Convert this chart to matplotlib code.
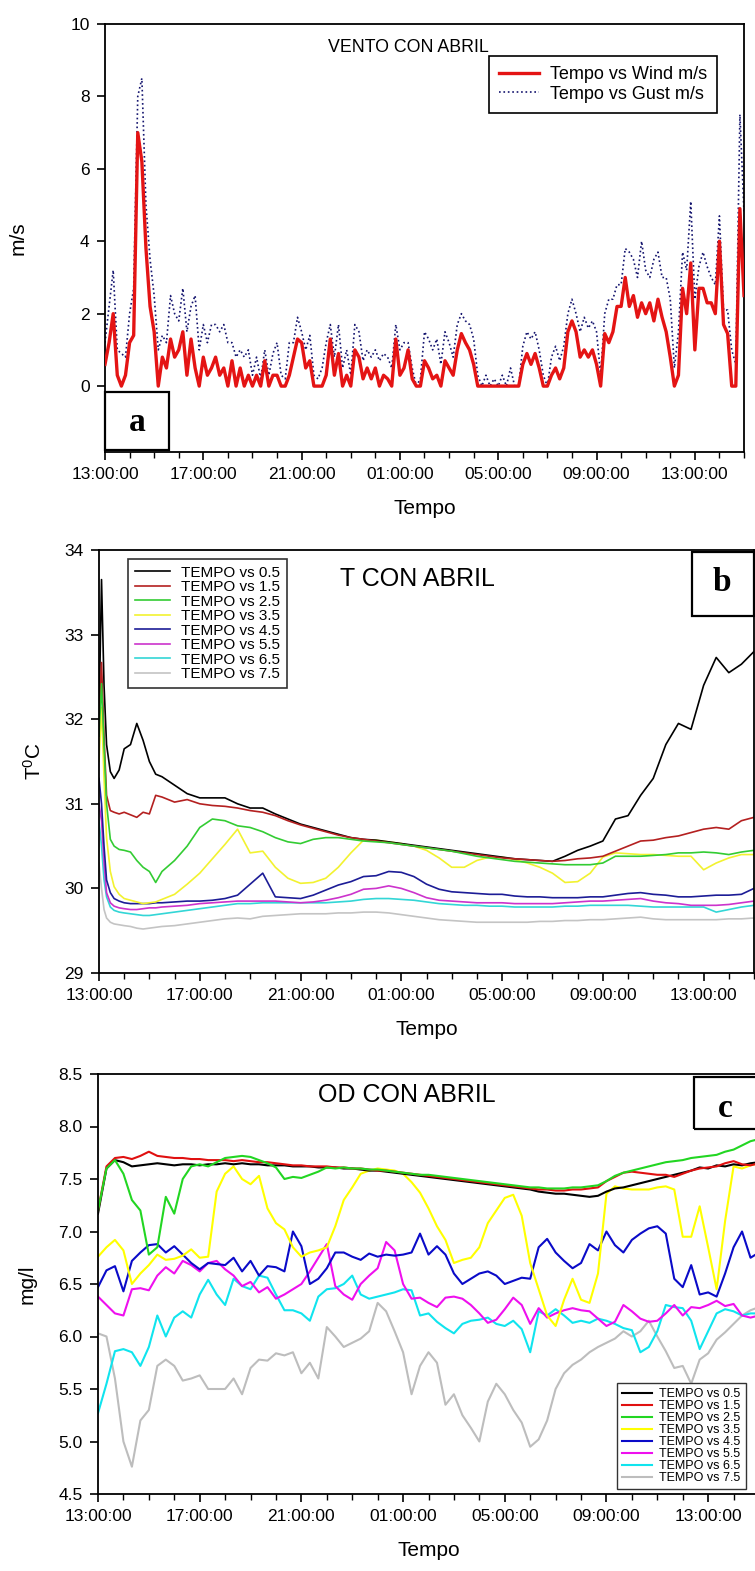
import numpy as np
import matplotlib
matplotlib.use('Agg')
import matplotlib.pyplot as plt
from matplotlib.patches import Rectangle
from matplotlib.ticker import FormatStrFormatter

plt.rcParams['font.family'] = ['Liberation Sans', 'DejaVu Sans']
plt.rcParams['mathtext.default'] = 'regular'

# hours counted from 13:00 of the first day
hour_ticks = [0, 4, 8, 12, 16, 20, 24]
hour_labels = ['13:00:00', '17:00:00', '21:00:00', '01:00:00',
               '05:00:00', '09:00:00', '13:00:00']
depth_labels = ['TEMPO vs 0.5', 'TEMPO vs 1.5', 'TEMPO vs 2.5', 'TEMPO vs 3.5',
                'TEMPO vs 4.5', 'TEMPO vs 5.5', 'TEMPO vs 6.5', 'TEMPO vs 7.5']

# ---- wind, one reading every 10 minutes (m/s)
wind = [0.6, 1.2, 2.0, 0.3, 0.0, 0.3, 1.2, 1.4, 7.0, 6.2, 3.8, 2.2,
        1.5, 0.0, 0.8, 0.5, 1.3, 0.8, 1.0, 1.5, 0.3, 1.3, 0.5, 0.0,
        0.8, 0.3, 0.5, 0.8, 0.3, 0.5, 0.0, 0.7, 0.0, 0.5, 0.0, 0.3,
        0.0, 0.3, 0.0, 0.7, 0.0, 0.3, 0.3, 0.0, 0.0, 0.3, 0.8, 1.3,
        1.2, 0.5, 0.7, 0.0, 0.0, 0.0, 0.3, 1.3, 0.3, 0.9, 0.0, 0.3,
        0.0, 1.0, 0.8, 0.2, 0.5, 0.2, 0.5, 0.0, 0.3, 0.2, 0.0, 1.3,
        0.3, 0.5, 1.0, 0.2, 0.0, 0.0, 0.7, 0.5, 0.2, 0.3, 0.0, 0.7,
        0.5, 0.3, 1.0, 1.45, 1.2, 1.0, 0.6, 0.0, 0.0, 0.0, 0.0, 0.0,
        0.0, 0.0, 0.0, 0.0, 0.0, 0.0, 0.6, 0.9, 0.6, 0.9, 0.5, 0.0,
        0.0, 0.3, 0.5, 0.2, 0.5, 1.5, 1.8, 1.5, 0.8, 1.0, 0.8, 1.0,
        0.6, 0.0, 1.45, 1.2, 1.5, 2.2, 2.2, 3.0, 2.2, 2.5, 1.9, 2.3,
        2.0, 2.3, 1.8, 2.4, 1.9, 1.5, 0.8, 0.0, 0.3, 2.7, 2.0, 3.4,
        1.0, 2.7, 2.7, 2.3, 2.3, 2.0, 4.0, 1.7, 1.45, 0.0, 0.0, 4.9,
        2.5]
gust = [1.2, 2.2, 3.2, 1.0, 0.9, 0.8, 2.0, 2.7, 8.0, 8.5, 5.0, 3.5,
        2.5, 1.0, 1.4, 1.2, 2.5, 2.0, 1.8, 2.7, 1.5, 2.2, 2.5, 1.0,
        1.7, 1.2, 1.7, 1.7, 1.5, 1.7, 1.2, 1.2, 0.8, 1.0, 0.8, 1.0,
        0.3, 0.8, 0.2, 1.0, 0.3, 0.9, 1.2, 0.3, 0.2, 1.2, 1.2, 1.9,
        1.5, 1.0, 1.4, 0.3, 0.2, 0.5, 1.2, 1.7, 0.8, 1.7, 0.5, 1.0,
        0.3, 1.7, 1.5, 0.7, 1.0, 0.8, 1.0, 0.7, 0.9, 0.8, 0.5, 1.7,
        1.0, 1.2, 1.2, 0.5, 0.0, 0.2, 1.5, 1.3, 1.0, 1.3, 0.6, 1.5,
        1.2, 0.8, 1.7, 2.0, 1.8, 1.7, 1.3, 0.3, 0.0, 0.3, 0.0, 0.2,
        0.0, 0.3, 0.0, 0.5, 0.0, 0.0, 1.1, 1.5, 1.3, 1.5, 1.0, 0.3,
        0.0, 0.8, 1.1, 0.7, 1.1, 2.0, 2.4, 2.0, 1.5, 1.9, 1.6, 1.8,
        1.5, 0.3, 2.0, 2.4, 2.4, 2.8, 2.8, 3.8, 3.7, 3.5, 3.0, 4.0,
        3.2, 3.0, 3.5, 3.7, 3.0, 3.0, 2.4, 0.5, 1.5, 3.7, 3.2, 5.1,
        2.4, 3.3, 3.7, 3.3, 3.0, 2.8, 4.7, 2.1, 2.1, 1.0, 0.6, 7.5,
        4.8]
t_wind = np.arange(len(wind)) / 6.0

# ---- water temperature by depth (deg C)
t_temp = [0, 0.1, 0.2, 0.3, 0.45, 0.6, 0.8, 1.0, 1.25, 1.5, 1.75, 2.0, 2.25, 2.5,
          3.0, 3.5, 4.0, 4.5, 5.0, 5.5, 6.0, 6.5, 7.0, 7.5, 8.0, 8.5, 9.0, 9.5,
          10.0, 10.5, 11.0, 11.5, 12.0, 12.5, 13.0, 13.5, 14.0, 14.5, 15.0, 15.5,
          16.0, 16.5, 17.0, 17.5, 18.0, 18.5, 19.0, 19.5, 20.0, 20.5, 21.0, 21.5,
          22.0, 22.5, 23.0, 23.5, 24.0, 24.5, 25.0, 25.5, 26.0]
temp_05 = [32.0, 33.65, 32.4, 31.7, 31.38, 31.3, 31.4, 31.65, 31.7, 31.95, 31.75, 31.5, 31.35, 31.32,
           31.22, 31.12, 31.07, 31.07, 31.07, 31.0, 30.95, 30.95,
           30.88, 30.82, 30.76, 30.72, 30.68, 30.64, 30.6, 30.58,
           30.57, 30.55, 30.53, 30.51, 30.49, 30.47, 30.45, 30.43,
           30.41, 30.39, 30.37, 30.35, 30.34, 30.33, 30.32, 30.38,
           30.45, 30.5, 30.56, 30.82, 30.86, 31.1, 31.3, 31.7,
           31.95, 31.88, 32.4, 32.73, 32.55, 32.65, 32.8]
temp_15 = [32.0, 32.67, 31.8, 31.1, 30.92, 30.9, 30.88, 30.9, 30.87, 30.84, 30.9, 30.88, 31.1, 31.08,
           31.02, 31.05, 31.0, 30.98, 30.97, 30.95, 30.92, 30.9,
           30.86, 30.8, 30.75, 30.71, 30.67, 30.63, 30.6, 30.58,
           30.56, 30.54, 30.52, 30.5, 30.48, 30.46, 30.44, 30.42,
           30.4, 30.38, 30.36, 30.35, 30.34, 30.33, 30.32, 30.33,
           30.35, 30.36, 30.38, 30.44, 30.5, 30.56, 30.57, 30.6,
           30.62, 30.66, 30.7, 30.72, 30.7, 30.8, 30.84]
temp_25 = [31.8, 32.42, 31.7, 31.0, 30.58, 30.5, 30.46, 30.45, 30.43, 30.33, 30.25, 30.2, 30.07, 30.2,
           30.33, 30.5, 30.72, 30.82, 30.8, 30.74, 30.72, 30.67,
           30.6, 30.55, 30.53, 30.58, 30.6, 30.6, 30.58, 30.56,
           30.55, 30.54, 30.52, 30.5, 30.48, 30.46, 30.44, 30.41,
           30.38, 30.36, 30.34, 30.32, 30.31, 30.3, 30.29, 30.28,
           30.28, 30.28, 30.3, 30.38, 30.38, 30.38, 30.39, 30.4,
           30.42, 30.42, 30.43, 30.42, 30.4, 30.43, 30.45]
temp_35 = [31.5, 32.14, 31.3, 30.6, 30.2, 30.02, 29.93, 29.88, 29.86, 29.84, 29.82, 29.83, 29.84, 29.87,
           29.93, 30.05, 30.18, 30.35, 30.52, 30.7, 30.42, 30.44,
           30.25, 30.12, 30.06, 30.07, 30.12, 30.25, 30.42, 30.57,
           30.57, 30.55, 30.53, 30.5, 30.45, 30.36, 30.25, 30.25,
           30.33, 30.37, 30.37, 30.34, 30.3, 30.25, 30.18, 30.07,
           30.08, 30.18, 30.37, 30.42, 30.41, 30.4, 30.4, 30.39,
           30.38, 30.38, 30.22, 30.3, 30.36, 30.4, 30.4]
temp_45 = [31.3, 31.0, 30.5, 30.1, 29.95, 29.88, 29.85, 29.83, 29.82, 29.82, 29.82, 29.82, 29.83, 29.83,
           29.84, 29.85, 29.85, 29.86, 29.88, 29.92, 30.05, 30.18,
           29.9, 29.89, 29.88, 29.92, 29.98, 30.04, 30.08, 30.14,
           30.15, 30.2, 30.19, 30.14, 30.05, 29.99, 29.96, 29.95,
           29.94, 29.93, 29.93, 29.91, 29.9, 29.9, 29.89, 29.89,
           29.89, 29.9, 29.9, 29.92, 29.94, 29.95, 29.93, 29.92,
           29.9, 29.9, 29.91, 29.92, 29.92, 29.93, 30.0]
temp_55 = [31.0, 30.8, 30.3, 29.95, 29.83, 29.79, 29.77, 29.76, 29.75, 29.75, 29.76, 29.77, 29.77, 29.78,
           29.79, 29.8, 29.82, 29.83, 29.84, 29.85, 29.85, 29.85,
           29.85, 29.84, 29.83, 29.84, 29.86, 29.89, 29.93, 29.99,
           30.0, 30.03, 30.0, 29.95, 29.89, 29.86, 29.85, 29.84,
           29.83, 29.83, 29.83, 29.82, 29.82, 29.82, 29.82, 29.83,
           29.84, 29.85, 29.85, 29.86, 29.87, 29.88, 29.85, 29.83,
           29.82, 29.8, 29.8, 29.8, 29.81, 29.83, 29.85]
temp_65 = [30.8, 30.5, 30.1, 29.9, 29.78, 29.74, 29.72, 29.71, 29.7, 29.69, 29.68, 29.68, 29.69, 29.7,
           29.72, 29.74, 29.76, 29.78, 29.8, 29.82, 29.82, 29.83,
           29.83, 29.83, 29.83, 29.83, 29.83, 29.84, 29.85, 29.87,
           29.88, 29.88, 29.87, 29.86, 29.84, 29.82, 29.81, 29.8,
           29.8, 29.79, 29.79, 29.78, 29.78, 29.78, 29.78, 29.79,
           29.79, 29.8, 29.8, 29.8, 29.8, 29.79, 29.78, 29.78,
           29.78, 29.78, 29.78, 29.72, 29.75, 29.78, 29.8]
temp_75 = [30.3, 30.0, 29.75, 29.65, 29.6, 29.58, 29.57, 29.56, 29.55, 29.53, 29.52, 29.53, 29.54, 29.55,
           29.56, 29.58, 29.6, 29.62, 29.64, 29.65, 29.64, 29.67,
           29.68, 29.69, 29.7, 29.7, 29.7, 29.71, 29.71, 29.72,
           29.72, 29.71, 29.69, 29.67, 29.65, 29.63, 29.62, 29.61,
           29.6, 29.6, 29.6, 29.6, 29.6, 29.61, 29.61, 29.62,
           29.62, 29.63, 29.63, 29.64, 29.65, 29.66, 29.64, 29.63,
           29.63, 29.63, 29.63, 29.63, 29.64, 29.64, 29.65]

# ---- dissolved oxygen by depth, one value every 20 minutes (mg/l)
do_05 = [7.17, 7.6, 7.68, 7.66, 7.62, 7.63, 7.64, 7.65, 7.64,
         7.63, 7.64, 7.64, 7.63, 7.64, 7.64, 7.65, 7.64, 7.65,
         7.64, 7.64, 7.63, 7.63, 7.63, 7.62, 7.62, 7.62, 7.61,
         7.61, 7.61, 7.6, 7.6, 7.59, 7.58, 7.58, 7.57, 7.56,
         7.55, 7.54, 7.53, 7.52, 7.51, 7.5, 7.49, 7.48, 7.47,
         7.46, 7.45, 7.44, 7.43, 7.42, 7.41, 7.4, 7.38, 7.37,
         7.36, 7.36, 7.35, 7.34, 7.33, 7.34, 7.38, 7.41, 7.42,
         7.44, 7.46, 7.48, 7.5, 7.52, 7.54, 7.56, 7.58, 7.61,
         7.6, 7.63, 7.62, 7.64, 7.63, 7.65, 7.66]
do_15 = [7.2, 7.62, 7.7, 7.71, 7.69, 7.72, 7.76, 7.72, 7.71,
         7.7, 7.7, 7.69, 7.69, 7.68, 7.68, 7.68, 7.67, 7.68,
         7.67, 7.66, 7.66, 7.65, 7.64, 7.63, 7.63, 7.62, 7.62,
         7.62, 7.61, 7.61, 7.6, 7.6, 7.59, 7.58, 7.58, 7.57,
         7.56, 7.55, 7.54, 7.53, 7.52, 7.51, 7.5, 7.49, 7.48,
         7.47, 7.46, 7.45, 7.44, 7.43, 7.42, 7.41, 7.4, 7.4,
         7.39, 7.39, 7.4, 7.4, 7.41, 7.42, 7.48, 7.52, 7.56,
         7.57, 7.56, 7.55, 7.54, 7.54, 7.52, 7.55, 7.58, 7.6,
         7.61, 7.62, 7.65, 7.67, 7.64, 7.63, 7.65]
do_25 = [7.2, 7.6, 7.68, 7.55, 7.3, 7.2, 6.78, 6.85, 7.33,
         7.17, 7.5, 7.62, 7.64, 7.62, 7.66, 7.7, 7.71, 7.72,
         7.71, 7.68, 7.65, 7.61, 7.5, 7.52, 7.51, 7.54, 7.57,
         7.61, 7.6, 7.61, 7.6, 7.6, 7.59, 7.59, 7.58, 7.57,
         7.56, 7.55, 7.54, 7.54, 7.53, 7.52, 7.51, 7.5, 7.49,
         7.48, 7.47, 7.46, 7.45, 7.44, 7.43, 7.42, 7.42, 7.41,
         7.41, 7.41, 7.42, 7.42, 7.43, 7.44, 7.48, 7.53, 7.56,
         7.58, 7.6, 7.62, 7.64, 7.66, 7.67, 7.68, 7.7, 7.71,
         7.72, 7.73, 7.76, 7.78, 7.82, 7.86, 7.88]
do_35 = [6.76, 6.85, 6.92, 6.82, 6.5, 6.6, 6.68, 6.78, 6.73,
         6.74, 6.77, 6.83, 6.75, 6.76, 7.38, 7.55, 7.62, 7.5,
         7.45, 7.53, 7.22, 7.08, 7.02, 6.85, 6.76, 6.8, 6.82,
         6.85, 7.05, 7.3, 7.42, 7.55, 7.58, 7.6, 7.59, 7.58,
         7.55, 7.47, 7.37, 7.22, 7.05, 6.92, 6.7, 6.73, 6.75,
         6.85, 7.08, 7.2, 7.32, 7.35, 7.15, 6.7, 6.45, 6.2,
         6.1, 6.35, 6.55, 6.35, 6.32, 6.6, 7.36, 7.43, 7.41,
         7.4, 7.4, 7.4, 7.42, 7.43, 7.4, 6.95, 6.95, 7.24,
         6.85, 6.45, 7.1, 7.62, 7.6, 7.63, 7.65]
do_45 = [6.47, 6.63, 6.67, 6.43, 6.72, 6.8, 6.87, 6.88, 6.8,
         6.86, 6.78, 6.7, 6.64, 6.7, 6.69, 6.68, 6.75, 6.62,
         6.72, 6.58, 6.67, 6.66, 6.62, 7.0, 6.86, 6.5, 6.55,
         6.65, 6.8, 6.8, 6.76, 6.73, 6.79, 6.76, 6.78, 6.77,
         6.78, 6.8, 6.98, 6.78, 6.86, 6.78, 6.6, 6.5, 6.55,
         6.6, 6.62, 6.58, 6.5, 6.53, 6.56, 6.55, 6.85, 6.93,
         6.8, 6.72, 6.65, 6.7, 6.88, 6.82, 7.0, 6.87, 6.8,
         6.92, 6.98, 7.03, 7.05, 6.98, 6.55, 6.47, 6.68, 6.4,
         6.42, 6.38, 6.6, 6.85, 7.0, 6.75, 6.8]
do_55 = [6.38, 6.3, 6.22, 6.2, 6.45, 6.46, 6.44, 6.58, 6.66,
         6.6, 6.72, 6.68, 6.62, 6.7, 6.72, 6.64, 6.58, 6.48,
         6.52, 6.42, 6.47, 6.36, 6.4, 6.45, 6.5, 6.62, 6.75,
         6.88, 6.48, 6.4, 6.35, 6.5, 6.58, 6.65, 6.9, 6.82,
         6.5, 6.36, 6.37, 6.32, 6.28, 6.37, 6.38, 6.36, 6.3,
         6.22, 6.13, 6.16, 6.26, 6.37, 6.3, 6.12, 6.27, 6.18,
         6.22, 6.25, 6.27, 6.25, 6.24, 6.17, 6.1, 6.14, 6.3,
         6.24, 6.17, 6.14, 6.15, 6.22, 6.3, 6.2, 6.28, 6.27,
         6.3, 6.34, 6.29, 6.31, 6.2, 6.18, 6.2]
do_65 = [5.27, 5.55, 5.86, 5.88, 5.85, 5.72, 5.9, 6.2, 6.0,
         6.18, 6.24, 6.18, 6.4, 6.54, 6.4, 6.3, 6.55, 6.48,
         6.45, 6.58, 6.56, 6.4, 6.25, 6.25, 6.22, 6.15, 6.38,
         6.45, 6.46, 6.5, 6.58, 6.4, 6.36, 6.38, 6.4, 6.42,
         6.45, 6.44, 6.2, 6.22, 6.14, 6.08, 6.03, 6.12, 6.15,
         6.16, 6.18, 6.12, 6.1, 6.15, 6.07, 5.85, 6.24, 6.2,
         6.26, 6.2, 6.13, 6.15, 6.13, 6.17, 6.15, 6.12, 6.08,
         6.06, 5.85, 5.9, 6.05, 6.3, 6.28, 6.27, 6.15, 5.88,
         6.05, 6.22, 6.26, 6.24, 6.2, 6.22, 6.22]
do_75 = [6.03, 6.0, 5.6, 5.0, 4.76, 5.2, 5.3, 5.72, 5.78,
         5.72, 5.58, 5.6, 5.63, 5.5, 5.5, 5.5, 5.6, 5.45,
         5.7, 5.78, 5.77, 5.84, 5.82, 5.85, 5.65, 5.75, 5.6,
         6.09, 6.0, 5.9, 5.94, 5.98, 6.05, 6.32, 6.24, 6.05,
         5.85, 5.45, 5.72, 5.85, 5.75, 5.35, 5.45, 5.25, 5.13,
         5.0, 5.38, 5.55, 5.45, 5.3, 5.18, 4.95, 5.02, 5.2,
         5.5, 5.65, 5.73, 5.78, 5.85, 5.9, 5.94, 5.98, 6.05,
         6.0, 6.05, 6.15, 6.0, 5.86, 5.7, 5.72, 5.55, 5.78,
         5.84, 5.97, 6.04, 6.12, 6.2, 6.25, 6.28]
t_do = np.arange(len(do_05)) / 3.0

temp_colors = ['#000000', '#b42020', '#33cc33', '#f2f230',
               '#1c1c96', '#cc33cc', '#33d6d6', '#c4c4c4']
do_colors = ['#000000', '#e01010', '#22d622', '#ffff00',
             '#0a0ac8', '#ee10ee', '#10e4ee', '#bdbdbd']
draw_order = [7, 6, 5, 4, 3, 0, 1, 2]


def time_axis(ax):
    ax.set_xlim(0, 26)
    ax.set_xticks(hour_ticks)
    ax.set_xticklabels(hour_labels)
    ax.set_xticks(np.arange(0, 27), minor=True)
    ax.tick_params(which='major', direction='out', length=6, width=1.2,
                   labelsize=12.5, pad=5)
    ax.tick_params(which='minor', direction='out', length=4, width=1.0)
    ax.tick_params(axis='y', which='minor', length=0)
    ax.set_xlabel('Tempo', fontsize=15, labelpad=12)
    for s in ax.spines.values():
        s.set_linewidth(1.3)


def letter_box(ax, x0, y0, w, h, letter, tx, ty):
    ax.add_patch(Rectangle((x0, y0), w, h, transform=ax.transAxes, fill=False,
                           lw=1.6, ec='black', clip_on=False, zorder=6))
    ax.text(tx, ty, letter, transform=ax.transAxes, ha='center', va='center',
            fontsize=24, fontweight='bold', family='Liberation Serif', zorder=7)


fig = plt.figure(figsize=(7.55, 15.71), dpi=100)
ax_a = fig.add_axes([105 / 755, 1 - 452 / 1571, 639 / 755, 428 / 1571])
ax_b = fig.add_axes([99 / 755, 1 - 973 / 1571, 655 / 755, 423 / 1571])
ax_c = fig.add_axes([98 / 755, 1 - 1494 / 1571, 661 / 755, 420 / 1571])

# ---- (a) wind and gusts
ax_a.plot(t_wind, gust, color='#14146e', lw=1.2, ls=':', label='Tempo vs Gust m/s', zorder=2)
ax_a.plot(t_wind, wind, color='#e41414', lw=2.4, label='Tempo vs Wind m/s', zorder=3)
time_axis(ax_a)
ax_a.set_ylim(-1.82, 10)
ax_a.set_yticks([0, 2, 4, 6, 8, 10])
ax_a.set_ylabel('m/s', fontsize=15)
ax_a.yaxis.set_label_coords(-0.1205, 0.5)
ax_a.text(0.349, 0.944, 'VENTO CON ABRIL', transform=ax_a.transAxes,
          ha='left', va='center', fontsize=12.8)
h, l = ax_a.get_legend_handles_labels()
leg = ax_a.legend(h[::-1], l[::-1], loc='upper left', bbox_to_anchor=(0.601, 0.925),
                  fontsize=13, fancybox=False, edgecolor='black', framealpha=1,
                  handlelength=2.2, handletextpad=0.6, borderpad=0.55,
                  labelspacing=0.15, borderaxespad=0)
leg.get_frame().set_linewidth(1.2)
letter_box(ax_a, 0.0, 0.005, 0.1, 0.135, 'a', 0.05, 0.068)

# ---- (b) temperature profile
temps = [temp_05, temp_15, temp_25, temp_35, temp_45, temp_55, temp_65, temp_75]
lines_b = [None] * 8
for i in draw_order:
    lines_b[i], = ax_b.plot(t_temp, temps[i], color=temp_colors[i], lw=1.2,
                            label=depth_labels[i])
time_axis(ax_b)
ax_b.set_ylim(29, 34)
ax_b.set_yticks([29, 30, 31, 32, 33, 34])
ax_b.set_ylabel(r'T$^{0}$C', fontsize=15)
ax_b.yaxis.set_label_coords(-0.0824, 0.5)
ax_b.text(0.368, 0.931, 'T CON ABRIL', transform=ax_b.transAxes,
          ha='left', va='center', fontsize=18)
leg = ax_b.legend(lines_b, depth_labels, loc='upper left', bbox_to_anchor=(0.0443, 0.979),
                  fontsize=11, fancybox=False, edgecolor='#333333', framealpha=1,
                  handlelength=2.3, handletextpad=0.7, borderpad=0.45,
                  labelspacing=0.03, borderaxespad=0)
leg.get_frame().set_linewidth(1.2)
letter_box(ax_b, 0.905, 0.844, 0.095, 0.151, 'b', 0.951, 0.922)

# ---- (c) dissolved oxygen profile
dos = [do_05, do_15, do_25, do_35, do_45, do_55, do_65, do_75]
lines_c = [None] * 8
for i in draw_order:
    lines_c[i], = ax_c.plot(t_do, dos[i], color=do_colors[i], lw=1.5,
                            label=depth_labels[i])
time_axis(ax_c)
ax_c.set_ylim(4.5, 8.5)
ax_c.set_yticks(np.arange(4.5, 8.51, 0.5))
ax_c.yaxis.set_major_formatter(FormatStrFormatter('%.1f'))
ax_c.set_ylabel('mg/l', fontsize=15)
ax_c.yaxis.set_label_coords(-0.0923, 0.5)
ax_c.text(0.333, 0.95, 'OD CON ABRIL', transform=ax_c.transAxes,
          ha='left', va='center', fontsize=18)
leg = ax_c.legend(lines_c, depth_labels, loc='lower left', bbox_to_anchor=(0.785, 0.012),
                  fontsize=9, fancybox=False, edgecolor='#333333', framealpha=1,
                  handlelength=2.4, handletextpad=0.6, borderpad=0.4,
                  labelspacing=0.0, borderaxespad=0)
leg.get_frame().set_linewidth(1.0)
letter_box(ax_c, 0.9017, 0.869, 0.12, 0.124, 'c', 0.9486, 0.919)

fig.savefig('out.png', dpi=100)
